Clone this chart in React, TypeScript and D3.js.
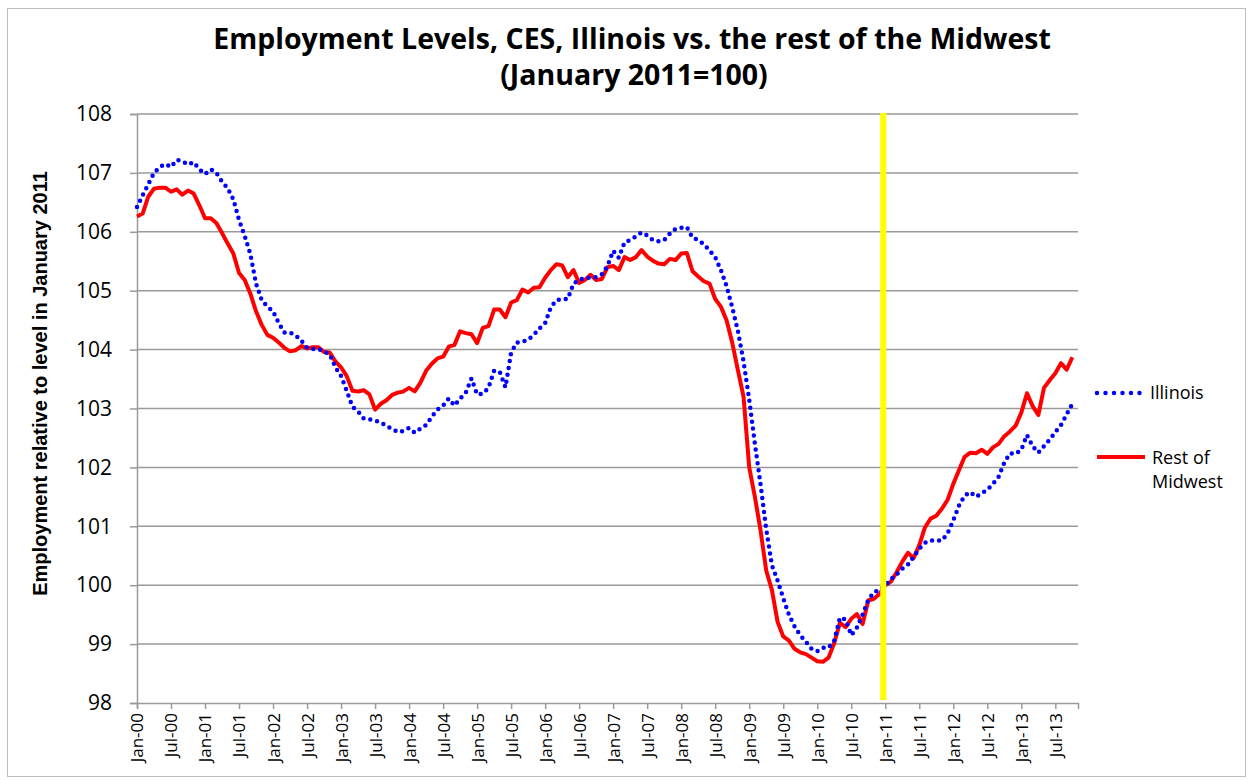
import React, { useEffect, useRef } from 'react';
import * as d3 from 'd3';

// monthly index values, Jan-00 .. Oct-13 (January 2011 = 100)
const illinois = [
  106.42, 106.62, 106.81, 107.0, 107.1, 107.15, 107.1, 107.22, 107.2, 107.14, 107.18, 107.06,
  106.98, 107.06, 107.0, 106.85, 106.74, 106.55, 106.2, 105.93, 105.62, 105.12, 104.84, 104.73,
  104.65, 104.45, 104.29, 104.29, 104.24, 104.15, 104.03, 104.01, 104.01, 103.97, 103.92, 103.7,
  103.55, 103.3, 103.03, 102.95, 102.83, 102.82, 102.79, 102.77, 102.7, 102.66, 102.6, 102.62,
  102.67, 102.59, 102.66, 102.72, 102.86, 102.98, 103.05, 103.17, 103.05, 103.17, 103.27, 103.51,
  103.24, 103.25, 103.35, 103.64, 103.62, 103.36, 103.95, 104.12, 104.13, 104.17, 104.25, 104.36,
  104.45, 104.72, 104.84, 104.86, 104.86, 105.12, 105.18, 105.22, 105.22, 105.23, 105.28, 105.42,
  105.68, 105.56, 105.82, 105.86, 105.92, 105.99, 105.94, 105.86, 105.84, 105.86, 105.97, 106.05,
  106.07, 106.08, 105.9, 105.86, 105.79, 105.68, 105.57, 105.35, 105.08, 104.72, 104.32, 103.8,
  103.15, 102.4, 101.71, 100.95, 100.34, 100.08, 99.78, 99.5, 99.3, 99.15, 99.04, 98.92,
  98.88, 98.94, 98.94, 99.06, 99.45, 99.42, 99.15, 99.28, 99.5, 99.75, 99.88, 99.92,
  100.0, 100.1, 100.18, 100.28, 100.35, 100.48, 100.62, 100.72, 100.76, 100.76, 100.76, 100.88,
  101.1, 101.35, 101.52, 101.58, 101.5, 101.56, 101.62, 101.72, 101.84, 102.08, 102.24, 102.23,
  102.3, 102.55, 102.36, 102.25, 102.36, 102.47, 102.6, 102.72, 102.9, 103.08,
];

const restOfMidwest = [
  106.26, 106.31, 106.6, 106.73, 106.75, 106.75, 106.68, 106.72, 106.63, 106.7, 106.65, 106.45,
  106.23, 106.23, 106.15, 105.98, 105.8, 105.63, 105.3, 105.18, 104.95, 104.65, 104.42, 104.25,
  104.2, 104.12, 104.03, 103.97, 103.99, 104.06, 104.02, 104.04, 104.04, 103.96, 103.95, 103.8,
  103.7, 103.55, 103.3, 103.29, 103.31, 103.24, 102.98, 103.08, 103.14, 103.23, 103.27, 103.29,
  103.35, 103.29, 103.44, 103.64, 103.76, 103.85, 103.88, 104.05, 104.08, 104.31, 104.28, 104.26,
  104.11, 104.37, 104.4, 104.68, 104.68, 104.55, 104.8, 104.84, 105.02, 104.97, 105.05, 105.06,
  105.22, 105.35, 105.45, 105.43, 105.23, 105.35, 105.13, 105.18, 105.27, 105.18, 105.2, 105.4,
  105.42, 105.35, 105.57, 105.52, 105.57, 105.69, 105.58, 105.51, 105.46, 105.45, 105.54, 105.52,
  105.63, 105.64, 105.33, 105.24, 105.16, 105.12, 104.86, 104.73, 104.5, 104.12, 103.65, 103.2,
  102.0, 101.5, 100.93, 100.25, 99.92, 99.38, 99.13, 99.06, 98.92, 98.86, 98.83, 98.77,
  98.71, 98.7, 98.77, 99.02, 99.36, 99.29, 99.43, 99.51, 99.34, 99.74, 99.77, 99.85,
  100.0, 100.06, 100.22, 100.4, 100.55, 100.46, 100.68, 100.98, 101.13, 101.18, 101.3, 101.45,
  101.72, 101.95, 102.18, 102.25, 102.24, 102.3, 102.23, 102.34, 102.4, 102.53, 102.61, 102.71,
  102.93, 103.26, 103.04, 102.89, 103.35, 103.48, 103.6, 103.77, 103.66, 103.87,
];

const xTickLabels = [
  'Jan-00', 'Jul-00', 'Jan-01', 'Jul-01', 'Jan-02', 'Jul-02', 'Jan-03', 'Jul-03', 'Jan-04', 'Jul-04',
  'Jan-05', 'Jul-05', 'Jan-06', 'Jul-06', 'Jan-07', 'Jul-07', 'Jan-08', 'Jul-08', 'Jan-09', 'Jul-09',
  'Jan-10', 'Jul-10', 'Jan-11', 'Jul-11', 'Jan-12', 'Jul-12', 'Jan-13', 'Jul-13',
];
const yTicks = [98, 99, 100, 101, 102, 103, 104, 105, 106, 107, 108];
const baseMonth = 132; // Jan-11

const W = 1250;
const H = 780;
const font = '"Open Sans", Lato, sans-serif';

const App: React.FC = () => {
  const svgRef = useRef<SVGSVGElement>(null);

  useEffect(() => {
    if (!svgRef.current) return;
    const svg = d3.select(svgRef.current);
    svg.selectAll('*').remove();

    const left = 137, right = 1078, top = 114, bottom = 703;

    const x = d3.scaleLinear().domain([0, 166]).range([left, right]);
    const y = d3.scaleLinear().domain([98, 108]).range([bottom, top]);

    // chart border
    svg.append('rect')
      .attr('x', 7.5).attr('y', 8.5)
      .attr('width', 1238).attr('height', 768)
      .attr('fill', '#fff')
      .attr('stroke', '#bdbdbd');

    // title
    svg.append('text')
      .attr('x', 632).attr('y', 49)
      .attr('text-anchor', 'middle')
      .style('font-family', font).style('font-size', '28.5px').style('font-weight', 'bold')
      .text('Employment Levels, CES, Illinois vs. the rest of the Midwest');
    svg.append('text')
      .attr('x', 634).attr('y', 85)
      .attr('text-anchor', 'middle')
      .style('font-family', font).style('font-size', '28.5px').style('font-weight', 'bold')
      .text('(January 2011=100)');

    // gridlines
    svg.append('g')
      .selectAll('line')
      .data(yTicks.filter(d => d > 98))
      .join('line')
      .attr('x1', left).attr('x2', right)
      .attr('y1', d => y(d)).attr('y2', d => y(d))
      .attr('stroke', '#9a9a9a').attr('stroke-width', 1.5);

    // y axis
    const yAxis = svg.append('g')
      .attr('transform', `translate(${left},0)`)
      .call(d3.axisLeft(y).tickValues(yTicks).tickSize(7).tickPadding(18).tickFormat(d3.format('d')));
    yAxis.select('.domain').attr('stroke', '#9a9a9a').attr('stroke-width', 1.5);
    yAxis.selectAll('.tick line').attr('stroke', '#9a9a9a').attr('stroke-width', 1.5);
    yAxis.selectAll('.tick text')
      .style('font-family', font).style('font-size', '21px').attr('fill', '#000');

    // x axis
    const xAxis = svg.append('g')
      .attr('transform', `translate(0,${bottom})`)
      .call(d3.axisBottom(x)
        .tickValues(xTickLabels.map((_, i) => i * 6))
        .tickSize(6)
        .tickFormat((_, i) => xTickLabels[i]));
    xAxis.select('.domain').attr('stroke', '#9a9a9a').attr('stroke-width', 1.5);
    xAxis.selectAll('.tick line').attr('stroke', '#9a9a9a').attr('stroke-width', 1.5);
    xAxis.selectAll('.tick text')
      .attr('transform', 'rotate(-90)')
      .attr('x', -10).attr('y', 0).attr('dy', '0.35em')
      .attr('text-anchor', 'end')
      .attr('fill', '#000')
      .style('font-family', font).style('font-size', '17px');

    // y axis title
    svg.append('text')
      .attr('transform', `translate(47,${(top + bottom) / 2 - 25}) rotate(-90)`)
      .attr('text-anchor', 'middle')
      .style('font-family', '"Liberation Sans Narrow", "Arial Narrow", sans-serif')
      .style('font-size', '20px').style('font-weight', 'bold')
      .text('Employment relative to level in January 2011');

    const line = d3.line<number>()
      .x((_, i) => x(i))
      .y(d => y(d));

    svg.append('path')
      .datum(restOfMidwest)
      .attr('d', line)
      .attr('fill', 'none')
      .attr('stroke', '#ff0000')
      .attr('stroke-width', 4)
      .attr('stroke-linejoin', 'round');

    svg.append('path')
      .datum(illinois)
      .attr('d', line)
      .attr('fill', 'none')
      .attr('stroke', '#0000ff')
      .attr('stroke-width', 4.5)
      .attr('stroke-linecap', 'round')
      .attr('stroke-dasharray', '0 7');

    // January 2011 marker
    svg.append('line')
      .attr('x1', x(baseMonth) - 2).attr('x2', x(baseMonth) - 2)
      .attr('y1', top - 1).attr('y2', bottom - 3)
      .attr('stroke', '#ffff00')
      .attr('stroke-width', 6);

    // legend
    const lg = svg.append('g');
    lg.append('line')
      .attr('x1', 1097).attr('x2', 1140).attr('y1', 393).attr('y2', 393)
      .attr('stroke', '#0000ff').attr('stroke-width', 4.5)
      .attr('stroke-linecap', 'round').attr('stroke-dasharray', '0 8.5');
    lg.append('text')
      .attr('x', 1150).attr('y', 399)
      .style('font-family', font).style('font-size', '18px')
      .text('Illinois');
    lg.append('text')
      .attr('x', 1152).attr('y', 464)
      .style('font-family', font).style('font-size', '18px')
      .text('Rest of');
    lg.append('line')
      .attr('x1', 1097).attr('x2', 1145).attr('y1', 457).attr('y2', 457)
      .attr('stroke', '#ff0000').attr('stroke-width', 4);
    lg.append('text')
      .attr('x', 1152).attr('y', 488)
      .style('font-family', font).style('font-size', '18px')
      .text('Midwest');
  }, []);

  return (
    <svg
      ref={svgRef}
      width={W}
      height={H}
      style={{ position: 'absolute', left: 0, top: 0, background: '#fff' }}
    />
  );
};

export default App;
